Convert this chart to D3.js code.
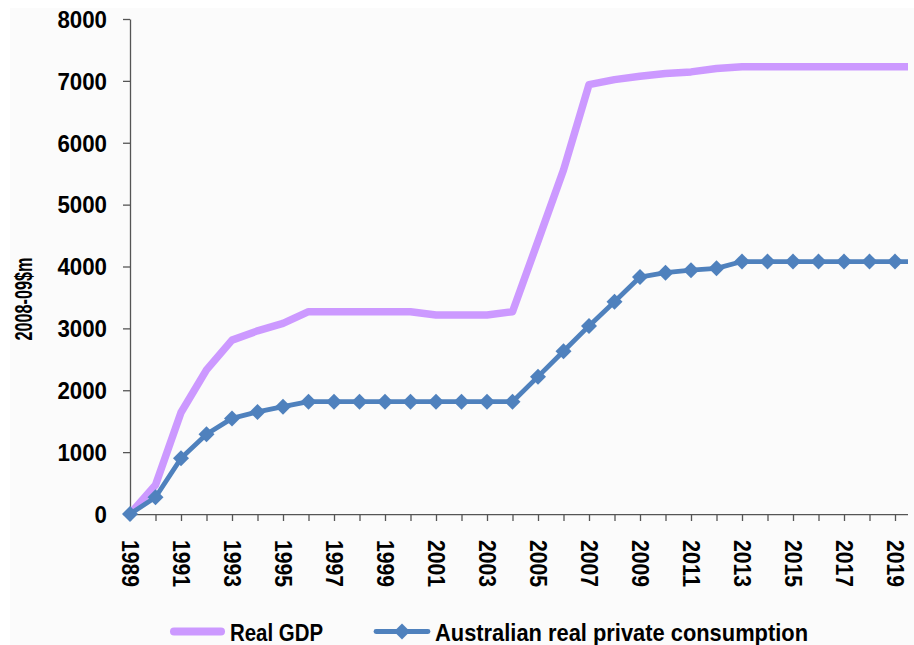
<!DOCTYPE html>
<html>
<head>
<meta charset="utf-8">
<script src="https://cdn.jsdelivr.net/npm/d3@7/dist/d3.min.js"></script>
<style>
  html, body { margin: 0; padding: 0; background: #ffffff; }
  svg { display: block; }
  text { font-family: "Liberation Sans Narrow", "Arial Narrow", "Liberation Sans", Arial, sans-serif; font-weight: bold; fill: #000; }
</style>
</head>
<body>
<div id="chart"></div>
<script>
// Years on the category axis
const years = d3.range(1989, 2021);

// Real GDP, 2008-09 $m
const realGdp = [
  0, 470, 1640, 2330, 2810, 2960, 3080, 3270, 3270, 3270,
  3270, 3270, 3215, 3215, 3215, 3270, 4410, 5560, 6940, 7020,
  7075, 7120, 7145, 7200, 7230, 7230, 7230, 7230, 7230, 7230,
  7230, 7230
];

// Australian real private consumption, 2008-09 $m
const privateConsumption = [
  0, 270, 900, 1290, 1545, 1650, 1735, 1815, 1815, 1815,
  1815, 1815, 1815, 1815, 1815, 1815, 2220, 2630, 3040, 3430,
  3830, 3900, 3940, 3970, 4080, 4080, 4080, 4080, 4080, 4080,
  4080, 4080
];

const yTicks = [0, 1000, 2000, 3000, 4000, 5000, 6000, 7000, 8000];
const seriesNames = ["Real GDP", "Australian real private consumption"];

const W = 914, H = 645;
const svg = d3.select("#chart").append("svg").attr("width", W).attr("height", H);

// faint chart-area backdrop
svg.append("rect").attr("x", 10).attr("y", 8).attr("width", W - 10).attr("height", H - 8)
  .attr("fill", "#fbfbfb");

const x = d3.scaleLinear().domain([1989, 2020]).range([130, 920.5]);
const y = d3.scaleLinear().domain([0, 8000]).range([514, 19]);

svg.append("defs").append("clipPath").attr("id", "plotClip")
  .append("rect").attr("x", 0).attr("y", 0).attr("width", 908).attr("height", H);

const axisColor = "#555";

// Y axis
const yAxis = svg.append("g").attr("transform", `translate(${x(1989)},0)`)
  .call(d3.axisLeft(y).tickValues(yTicks).tickFormat(d3.format("d")).tickSize(7).tickSizeOuter(0).tickPadding(16));
yAxis.select(".domain").attr("stroke", axisColor).attr("stroke-width", 1.3);
yAxis.selectAll(".tick line").attr("stroke", axisColor).attr("stroke-width", 1.3);
yAxis.selectAll(".tick text")
  .style("font-size", "23px")
  .attr("dy", "0.36em")
  .each(function(d) {
    const n = String(d).length;
    d3.select(this).attr("textLength", 12.4 * n).attr("lengthAdjust", "spacingAndGlyphs");
  });

// X axis
const xAxis = svg.append("g").attr("transform", `translate(0,${y(0)})`).attr("clip-path", "url(#plotClip)")
  .call(d3.axisBottom(x).tickValues(years)
    .tickFormat(d => (d % 2 === 1 ? String(d) : ""))
    .tickSize(7).tickSizeOuter(0));
xAxis.select(".domain").attr("stroke", axisColor).attr("stroke-width", 1.3);
xAxis.selectAll(".tick line").attr("stroke", axisColor).attr("stroke-width", 1.3);
xAxis.selectAll(".tick text")
  .style("font-size", "23px")
  .style("text-anchor", "start")
  .attr("transform", "rotate(90)")
  .attr("x", 26)
  .attr("y", 0)
  .attr("dy", "0.36em")
  .attr("textLength", d => (d % 2 === 1 ? 47 : null))
  .attr("lengthAdjust", "spacingAndGlyphs");

// Y axis title
svg.append("text")
  .attr("transform", `translate(32,${299}) rotate(-90)`)
  .attr("text-anchor", "middle")
  .style("font-size", "24px")
  .attr("textLength", 83).attr("lengthAdjust", "spacingAndGlyphs")
  .text("2008-09$m");

const plot = svg.append("g").attr("clip-path", "url(#plotClip)");

const line = d3.line().x((d, i) => x(years[i])).y(d => y(d));

const gdpColor = "#CC99FF";
const pcColor = "#4F81BD";

plot.append("path").datum(realGdp)
  .attr("d", line)
  .attr("fill", "none").attr("stroke", gdpColor).attr("stroke-width", 7.5)
  .attr("stroke-linejoin", "round").attr("stroke-linecap", "butt");

plot.append("path").datum(privateConsumption)
  .attr("d", line)
  .attr("fill", "none").attr("stroke", pcColor).attr("stroke-width", 4.8)
  .attr("stroke-linejoin", "round");

const diamond = (cx, cy, r) => `M${cx},${cy - r}L${cx + r},${cy}L${cx},${cy + r}L${cx - r},${cy}Z`;

plot.selectAll(".pc-marker").data(privateConsumption).enter().append("path")
  .attr("class", "pc-marker")
  .attr("d", (d, i) => diamond(x(years[i]), y(d), 8))
  .attr("fill", pcColor);

// Legend
const legendY = 631.5;
const lg = svg.append("g");
lg.append("line").attr("x1", 174).attr("x2", 221).attr("y1", legendY).attr("y2", legendY)
  .attr("stroke", gdpColor).attr("stroke-width", 8).attr("stroke-linecap", "round");
lg.append("text").attr("x", 230).attr("y", 641).style("font-size", "24px")
  .attr("textLength", 93).attr("lengthAdjust", "spacingAndGlyphs").text(seriesNames[0]);

lg.append("line").attr("x1", 376).attr("x2", 428).attr("y1", legendY).attr("y2", legendY)
  .attr("stroke", pcColor).attr("stroke-width", 4.8).attr("stroke-linecap", "round");
lg.append("path").attr("d", diamond(402, legendY, 8)).attr("fill", pcColor);
lg.append("text").attr("x", 435).attr("y", 641).style("font-size", "24px")
  .attr("textLength", 373).attr("lengthAdjust", "spacingAndGlyphs").text(seriesNames[1]);
</script>
</body>
</html>
